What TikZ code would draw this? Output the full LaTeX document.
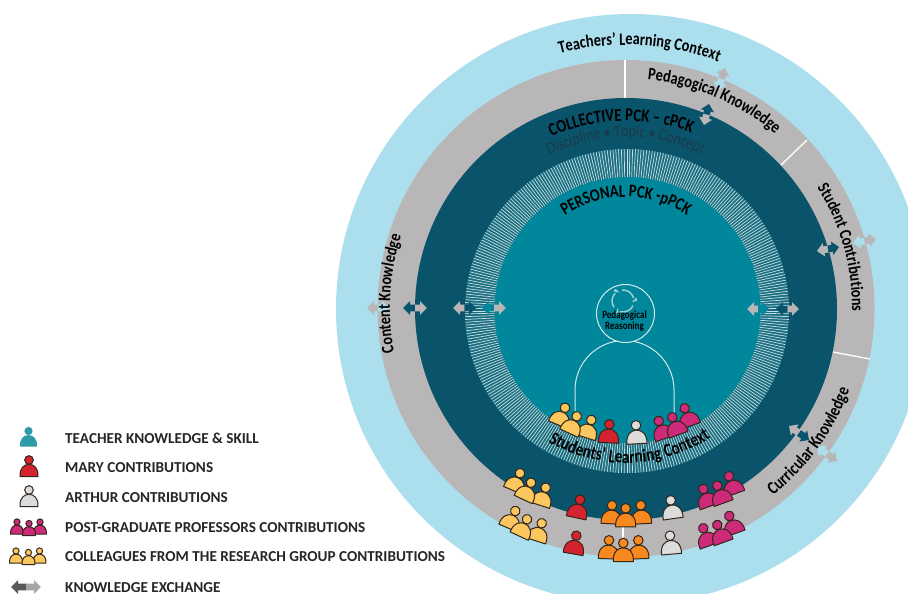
\documentclass[tikz,border=0pt]{standalone}
\usepackage{fontspec}
\usetikzlibrary{decorations.text}
\setmainfont{Carlito}
\newfontfamily\condf[FakeStretch=0.82]{Carlito}
\definecolor{skyc}{HTML}{ACDFEE}
\definecolor{ringg}{HTML}{B9B6B7}
\definecolor{deep}{HTML}{09536B}
\definecolor{tealc}{HTML}{00879B}
\definecolor{stripeb}{HTML}{1A6D80}
\definecolor{stripel}{HTML}{C4DFE2}
\definecolor{yel}{HTML}{FDC75F}
\definecolor{redc}{HTML}{D2232F}
\definecolor{mag}{HTML}{CE2A7A}
\definecolor{org}{HTML}{F7891F}
\definecolor{grayp}{HTML}{DCDCDC}
\definecolor{inks}{HTML}{33261A}
\definecolor{legt}{HTML}{2E9BAB}
\definecolor{subt}{HTML}{1C3A49}
\tikzset{
  pstroke/.style={draw=inks,line width=1pt,line join=round},
  legendtext/.style={anchor=base west,font=\bfseries\fontsize{15.2}{17}\selectfont,text=black!85,inner sep=0pt},
  sep/.style={draw=white,line width=1.3pt}
}
% head x, head y, rotation, fill, scale, draw style
\newcommand\Pers[6][pstroke]{%
  \begin{scope}[shift={(#2,#3)},rotate=#4,scale=#6]
    \path[#1,fill=#5] (-10,18.5) .. controls (-10.6,9) and (-5.5,4.8) .. (0,4.8) .. controls (5.5,4.8) and (10.6,9) .. (10,18.5) -- cycle;
    \path[#1,fill=#5] (0,0) circle[radius=4.8pt];
  \end{scope}}
% tip1 x,y, tip2 x,y, colours
\newcommand\Exch[6]{%
  \pgfmathsetmacro\exa{atan2(-(#4-#2),#3-#1)}%
  \pgfmathsetmacro\exl{0.5*veclen(#3-#1,#4-#2)}%
  \begin{scope}[shift={({(#1+#3)/2},{(#2+#4)/2})},rotate=\exa]
    \fill[#5] (0.2,-3.4) -- (-\exl+7,-3.4) -- (-\exl+7,-6.8) -- (-\exl,0) -- (-\exl+7,6.8) -- (-\exl+7,3.4) -- (0.2,3.4) -- cycle;
    \fill[#6] (0,-3.4) -- (\exl-7,-3.4) -- (\exl-7,-6.8) -- (\exl,0) -- (\exl-7,6.8) -- (\exl-7,3.4) -- (0,3.4) -- cycle;
  \end{scope}}
% centre x,y, centre angle, radius, +1 clockwise / -1 counter, colour, font+text
\newcommand\ArcTxt[7]{%
  \pgfmathsetmacro\ata{#3+#5*70}%
  \pgfmathsetmacro\atb{#3-#5*70}%
  \path[decorate,decoration={text along path,text align=center,text color=#6,
     text={#7}}]
     (#1,#2) ++(\ata:#4pt) arc[start angle=\ata,end angle=\atb,radius=#4pt];}
\begin{document}
\begin{tikzpicture}[x=1pt,y=-1pt]
\useasboundingbox (0,0) rectangle (908,594);
\clip (0,0) rectangle (908,594);
\fill[white] (0,0) rectangle (908,594);
% rings
\fill[skyc] (631,309) circle[radius=295pt];
\fill[ringg] (626,308.5) circle[radius=248.5pt];
\draw[sep] (625,60) -- (625,98);
\draw[sep] (781,165) -- (807,140);
\draw[sep] (833,352) -- (870,359);
\draw[sep] (623,520) -- (623,557);
\fill[deep] (626,309) circle[radius=211pt];
\fill[stripeb] (627,311) circle[radius=162pt];
\foreach \a in {0,1,...,359} {
  \draw[stripel,line width=0.7pt] (627,311) ++(\a:130pt) -- ++(\a:32pt);
}
\fill[tealc] (627.5,310) circle[radius=133pt];
% centre figure
\draw[draw=stripel!70!white,line width=1pt] (575,411) -- (575,390) arc[start angle=180,end angle=0,radius=49.5pt] -- (674,413);
\draw[draw=stripel!70!white,line width=1pt,fill=tealc] (625.5,313.5) circle[radius=29pt];
\foreach \b in {0,120,240} {
  \draw[stripel!80!tealc,line width=1.5pt] (623,301) ++(\b+15:11pt) arc[start angle=\b+15,end angle=\b+95,radius=11pt];
  \fill[stripel!80!tealc] (623,301) ++(\b+15:11pt) ++(\b+15:2.8pt) -- ++(\b-75:3.5pt) -- ++(\b+195:5.6pt) -- cycle;
}
\node[font=\condf\bfseries\fontsize{11}{9.4}\selectfont,align=center,text=black,inner sep=0pt] (reasoning) at (624.5,321) {Pedagogical\\Reasoning};
% exchange arrows
\Exch{367}{308}{389}{308}{ringg}{skyc}
\Exch{403}{308}{427}{308}{deep}{ringg}
\Exch{453}{308}{476}{308}{ringg}{deep}
\Exch{482}{308}{506}{308}{tealc}{ringg}
\Exch{747}{309}{769}{309}{ringg}{tealc}
\Exch{776}{309}{799}{309}{deep}{ringg}
\Exch{817}{251}{839}{247}{ringg}{deep}
\Exch{853}{243}{876}{239}{skyc}{ringg}
\Exch{725}{68}{718}{90}{ringg}{skyc}
\Exch{709}{104}{704}{125}{deep}{ringg}
\Exch{789}{426}{809}{440}{ringg}{deep}
\Exch{817}{447}{837}{461}{skyc}{ringg}
% arc labels
\ArcTxt{626}{308}{87}{263}{1}{black}{|\condf\bfseries\fontsize{17.5}{17}\selectfont|Teachers’ Learning Context}
\ArcTxt{626}{308}{67}{229}{1}{black}{|\condf\bfseries\fontsize{17.5}{17}\selectfont|Pedagogical Knowledge}
\ArcTxt{626}{308}{15.7}{226}{1}{black}{|\condf\bfseries\fontsize{17.3}{17}\selectfont|Student Contributions}
\ArcTxt{626}{308}{-36}{238}{-1}{black}{|\condf\bfseries\fontsize{18}{17}\selectfont|Curricular Knowledge}
\ArcTxt{626}{308}{176.5}{236}{1}{black}{|\condf\bfseries\fontsize{17.5}{17}\selectfont|Content Knowledge}
\ArcTxt{626}{308}{91.5}{187}{1}{black}{|\condf\bfseries\fontsize{18}{17}\selectfont|COLLECTIVE PCK – cPCK}
\ArcTxt{626}{308}{90}{171}{1}{subt}{|\condf\fontsize{17}{17}\selectfont|Discipline • Topic • Concept}
\ArcTxt{626}{308}{90}{111}{1}{black}{|\condf\bfseries\fontsize{17.7}{17}\selectfont|PERSONAL PCK -pPCK}
\ArcTxt{626}{308}{-88.5}{155}{-1}{black}{|\condf\bfseries\fontsize{18.6}{17}\selectfont|Students’ Learning Context}
% inner people
\Pers{565}{407.7}{-23}{yel}{1}
\Pers{591.3}{420}{-18}{yel}{1}
\Pers{576.7}{416.3}{-25}{yel}{1}
\Pers{609.3}{424.3}{-3}{redc}{1}
\Pers{636}{425.3}{3}{grayp}{1}
\Pers{684.7}{408.3}{20}{mag}{1}
\Pers{658.7}{421}{20}{mag}{1}
\Pers{672.3}{417.3}{20}{mag}{1}
% middle row
\Pers{520}{473.3}{-23}{yel}{1}
\Pers{545.7}{487.7}{-18}{yel}{1}
\Pers{531}{482.7}{-25}{yel}{1}
\Pers{580}{499.7}{-12}{redc}{1}
\Pers{612}{505.3}{-3}{org}{1}
\Pers{640.7}{505.3}{3}{org}{1}
\Pers{625.7}{508.3}{0}{org}{1}
\Pers{670.7}{500.3}{8}{grayp}{1}
\Pers{729}{476.3}{20}{mag}{1}
\Pers{703.3}{489}{20}{mag}{1}
\Pers{717.3}{485.7}{20}{mag}{1}
% outer row
\Pers{515.3}{511}{-23}{yel}{1}
\Pers{541.7}{523.3}{-18}{yel}{1}
\Pers{527}{519.3}{-25}{yel}{1}
\Pers{576.3}{535.7}{-10}{redc}{1}
\Pers{609}{540.3}{-2}{org}{1}
\Pers{638.3}{540.3}{2}{org}{1}
\Pers{623.3}{543}{0}{org}{1}
\Pers{670}{535.7}{5}{grayp}{1}
\Pers{729.3}{516}{20}{mag}{1}
\Pers{703.3}{528.3}{20}{mag}{1}
\Pers{717.3}{525}{20}{mag}{1}
% legend icons
\Pers[fill]{28.5}{431}{0}{legt}{0.85}
\Pers{29}{460}{0}{redc}{0.9}
\Pers{29}{490}{0}{grayp}{0.9}
\Pers{17}{522}{0}{mag}{0.65}
\Pers{40}{522}{0}{mag}{0.65}
\Pers{29}{523.5}{0}{mag}{0.65}
\Pers{16}{551}{0}{yel}{0.65}
\Pers{39.5}{551}{0}{yel}{0.65}
\Pers{28.5}{552.5}{0}{yel}{0.65}
\Exch{11}{587}{41}{587}{black!65}{black!35}
% legend text
\node[legendtext] (l1) at (65,443) {TEACHER KNOWLEDGE \& SKILL};
\node[legendtext] (l2) at (65,472) {MARY CONTRIBUTIONS};
\node[legendtext] (l3) at (65,502) {ARTHUR CONTRIBUTIONS};
\node[legendtext] (l4) at (65,532) {POST-GRADUATE PROFESSORS CONTRIBUTIONS};
\node[legendtext] (l5) at (65,561) {COLLEAGUES FROM THE RESEARCH GROUP CONTRIBUTIONS};
\node[legendtext] (l6) at (65,592) {KNOWLEDGE EXCHANGE};
\end{tikzpicture}
\end{document}
